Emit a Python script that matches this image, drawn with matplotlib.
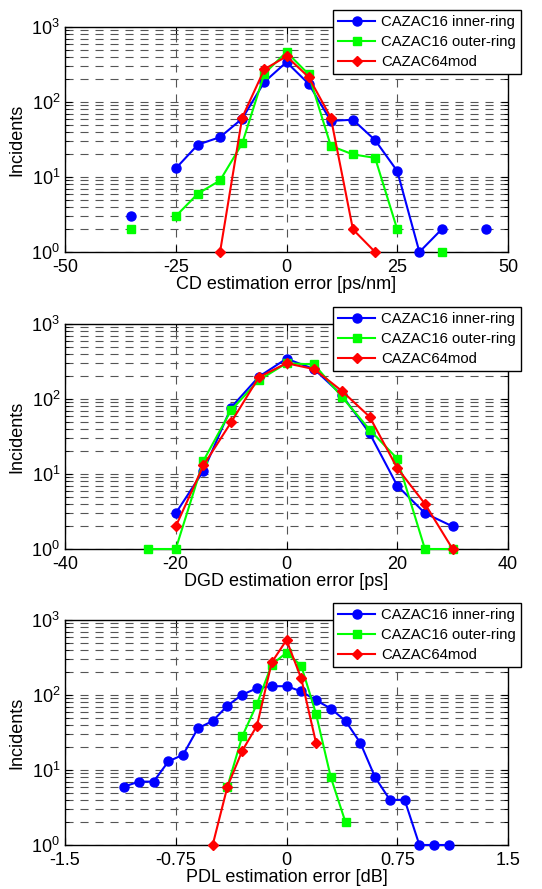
"""
CAZAC training sequence estimation error histograms (CD / DGD / PDL)
"""
import matplotlib
matplotlib.use('Agg')
import matplotlib.pyplot as plt
import numpy as np

plt.rcParams['font.family'] = ['Liberation Sans', 'DejaVu Sans']
plt.rcParams['axes.unicode_minus'] = False
plt.rcParams['mathtext.default'] = 'regular'
plt.rcParams['lines.scale_dashes'] = False

# ---- CD estimation error [ps/nm] ----
cd_x_inner = [-35, -30, -25, -20, -15, -10, -5, 0, 5, 10, 15, 20, 25, 30, 35, 40, 45]
cd_inner = [3, 0, 13, 27, 34, 60, 185, 340, 175, 56, 58, 31, 12, 1, 2, 0, 2]
cd_x_outer = [-35, -30, -25, -20, -15, -10, -5, 0, 5, 10, 15, 20, 25, 30, 35]
cd_outer = [2, 0, 3, 6, 9, 28, 239, 464, 234, 26, 20, 18, 2, 0, 1]
cd_x_mod = [-15, -10, -5, 0, 5, 10, 15, 20]
cd_mod = [1, 62, 273, 406, 215, 62, 2, 1]

# ---- DGD estimation error [ps] ----
dgd_x_inner = [-20, -15, -10, -5, 0, 5, 10, 15, 20, 25, 30]
dgd_inner = [3, 11, 77, 198, 345, 250, 113, 35, 7, 3, 2]
dgd_x_outer = [-25, -20, -15, -10, -5, 0, 5, 10, 15, 20, 25, 30]
dgd_outer = [1, 1, 15, 71, 178, 300, 289, 107, 39, 16, 1, 1]
dgd_x_mod = [-20, -15, -10, -5, 0, 5, 10, 15, 20, 25, 30]
dgd_mod = [2, 13, 49, 195, 300, 250, 128, 58, 12, 4, 1]

# ---- PDL estimation error [dB] ----
pdl_x_inner = [-1.1, -1.0, -0.9, -0.8, -0.7, -0.6, -0.5, -0.4, -0.3, -0.2, -0.1, 0.0,
               0.1, 0.2, 0.3, 0.4, 0.5, 0.6, 0.7, 0.8, 0.9, 1.0, 1.1]
pdl_inner = [6, 7, 7, 13, 16, 36, 45, 72, 101, 123, 131, 131,
             112, 85, 66, 45, 23, 8, 4, 4, 1, 1, 1]
pdl_x_outer = [-0.4, -0.3, -0.2, -0.1, 0.0, 0.1, 0.2, 0.3, 0.4]
pdl_outer = [6, 28, 76, 255, 366, 245, 56, 8, 2]
pdl_x_mod = [-0.5, -0.4, -0.3, -0.2, -0.1, 0.0, 0.1, 0.2]
pdl_mod = [1, 6, 18, 39, 272, 540, 166, 23]

labels = ['CAZAC16 inner-ring', 'CAZAC16 outer-ring', 'CAZAC64mod']
colors = ['#0000FF', '#00FF00', '#FF0000']
markers = ['o', 's', 'D']
msizes = [6.5, 6, 5.5]

panels = [
    dict(series=[(cd_x_inner, cd_inner), (cd_x_outer, cd_outer), (cd_x_mod, cd_mod)],
         xlim=(-50, 50), xticks=[-50, -25, 0, 25, 50],
         xticklabels=['-50', '-25', '0', '25', '50'],
         xlabel='CD estimation error [ps/nm]', top=27),
    dict(series=[(dgd_x_inner, dgd_inner), (dgd_x_outer, dgd_outer), (dgd_x_mod, dgd_mod)],
         xlim=(-40, 40), xticks=[-40, -20, 0, 20, 40],
         xticklabels=['-40', '-20', '0', '20', '40'],
         xlabel='DGD estimation error [ps]', top=324),
    dict(series=[(pdl_x_inner, pdl_inner), (pdl_x_outer, pdl_outer), (pdl_x_mod, pdl_mod)],
         xlim=(-1.5, 1.5), xticks=[-1.5, -0.75, 0, 0.75, 1.5],
         xticklabels=['-1.5', '-0.75', '0', '0.75', '1.5'],
         xlabel='PDL estimation error [dB]', top=620),
]

W, H = 542, 889
fig = plt.figure(figsize=(W / 100, H / 100), dpi=100)

ax_left, ax_w, ax_h = 65, 443, 225
grid_style = dict(color='#555555', linestyle=(0, (5.8, 5.0)), linewidth=0.8)

for p in panels:
    ax = fig.add_axes([ax_left / W, 1 - (p['top'] + ax_h) / H, ax_w / W, ax_h / H])
    for (x, y), lab, c, m, ms in zip(p['series'], labels, colors, markers, msizes):
        y = np.array(y, dtype=float)
        y = np.where(y > 0, y, np.nan)  # zero counts -> gap on log axis
        ax.plot(x, y, color=c, marker=m, markersize=ms, linewidth=1.5,
                markerfacecolor=c, markeredgecolor=c, label=lab, clip_on=False, zorder=3)

    ax.set_yscale('log')
    ax.set_ylim(1, 1000)
    ax.set_xlim(*p['xlim'])
    ax.set_xticks(p['xticks'])
    ax.set_xticklabels(p['xticklabels'])
    ax.set_yticks([1, 10, 100, 1000])

    ax.grid(True, which='major', axis='both', **grid_style)
    ax.grid(True, which='minor', axis='y', **grid_style)
    ax.set_axisbelow(True)

    ax.tick_params(which='both', direction='in', top=True, right=True, labelsize=13)
    ax.tick_params(which='major', length=5)
    ax.tick_params(which='minor', length=3)
    ax.tick_params(axis='x', pad=5)
    for s in ax.spines.values():
        s.set_linewidth(1.0)

    ax.set_xlabel(p['xlabel'], fontsize=13, labelpad=0)
    ax.set_ylabel('Incidents', fontsize=13, labelpad=4)

    leg = ax.legend(loc='upper right', bbox_to_anchor=(1 + 13 / ax_w, 1 + 17 / ax_h),
                    borderaxespad=0, fancybox=False, framealpha=1, edgecolor='black',
                    fontsize=10.7, handlelength=2.5, handletextpad=0.4,
                    labelspacing=0.4, borderpad=0.35)
    leg.get_frame().set_linewidth(1.0)
    leg.set_zorder(10)

plt.savefig('out.png', dpi=100)
